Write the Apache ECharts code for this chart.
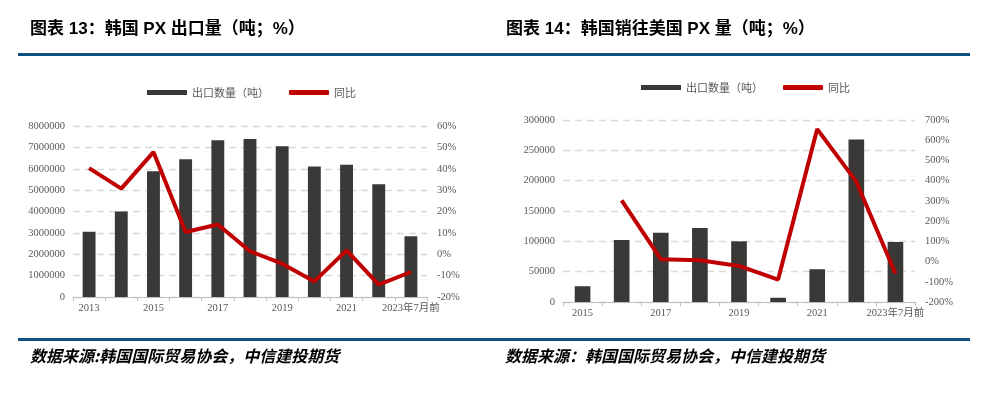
<!DOCTYPE html>
<html>
<head>
<meta charset="utf-8">
<script src="https://cdn.jsdelivr.net/npm/echarts@6/dist/echarts.min.js"></script>
<style>
html,body{margin:0;padding:0;background:#fff;}
#c{width:993px;height:395px;}
</style>
</head>
<body>
<div id="c"></div>
<script>
// ---- data: chart 13 ----
const cats13 = ['2013','2014','2015','2016','2017','2018','2019','2020','2021','2022','2023年7月前'];
const export13 = [3050000,4000000,5880000,6440000,7330000,7390000,7050000,6100000,6190000,5270000,2840000];
const yoy13 = [40.3,30.7,47.8,10.4,13.9,1.4,-4.4,-12.7,1.8,-14.2,-8.3];
const leftTicks13 = [0,1000000,2000000,3000000,4000000,5000000,6000000,7000000,8000000];
const rightTicks13 = [-20,-10,0,10,20,30,40,50,60];

// ---- data: chart 14 ----
const cats14 = ['2015','2016','2017','2018','2019','2020','2021','2022','2023年7月前'];
const export14 = [26000,102000,114000,122000,100000,7000,54000,268000,99000];
const yoy14 = [null,303,11.5,6.5,-21.7,-89,655,395,-59];
const leftTicks14 = [0,50000,100000,150000,200000,250000,300000];
const rightTicks14 = [-200,-100,0,100,200,300,400,500,600,700];

const seriesNames = ['出口数量（吨）','同比'];
const titles = ['图表 13：韩国 PX 出口量（吨；%）','图表 14：韩国销往美国 PX 量（吨；%）'];
const sources = ['数据来源:韩国国际贸易协会，中信建投期货','数据来源：韩国国际贸易协会，中信建投期货'];

const BAR = '#3A3836', LINE = '#C00000', TXT = '#595959', BLUE = '#0D5181';
const NUMFONT = '"Liberation Serif","Noto Sans CJK SC",serif';
const CJK = '"Noto Sans CJK SC",sans-serif';
const TITLEFONT = '"Liberation Sans","Noto Sans CJK SC",sans-serif';

function catAxis(idx, cats){
  return {
    type:'category', gridIndex:idx, data:cats, boundaryGap:true,
    axisLine:{show:true, lineStyle:{color:'#BFBFBF', width:1}},
    axisTick:{show:true, interval:0, length:4, lineStyle:{color:'#BFBFBF'}},
    axisLabel:{interval:1, color:TXT, fontFamily:NUMFONT, fontSize:10.5, margin:6}
  };
}
function valAxis(idx, ticks, pct, grid){
  return {
    type:'value', gridIndex:idx, position: pct ? 'right':'left',
    min:ticks[0], max:ticks[ticks.length-1], interval:ticks[1]-ticks[0],
    alignTicks:false,
    axisLine:{show:false}, axisTick:{show:false},
    splitLine:{show:grid, lineStyle:{color:'#D9D9D9', type:[7,5], width:1.3}},
    axisLabel:{color:TXT, fontFamily:NUMFONT, fontSize:10.5, margin: pct ? 10 : 8,
      formatter: pct ? (v => v + '%') : (v => String(v))}
  };
}
function legendData(suffix){
  return [
    {name:seriesNames[0]+suffix, icon:'rect'},
    {name:seriesNames[1]+suffix, icon:'roundRect'}
  ];
}

const chart = echarts.init(document.getElementById('c'), null, {renderer:'canvas'});
chart.setOption({
  animation:false,
  backgroundColor:'#fff',
  title:[
    {text:titles[0], left:30, top:21, padding:0, textStyle:{fontFamily:TITLEFONT, fontSize:17, fontWeight:'bold', color:'#000'}},
    {text:titles[1], left:506, top:21, padding:0, textStyle:{fontFamily:TITLEFONT, fontSize:17, fontWeight:'bold', color:'#000'}}
  ],
  legend:[
    {data:legendData(''), left:142, top:82, itemWidth:40, itemHeight:5, itemGap:20,
     textStyle:{color:TXT, fontFamily:CJK, fontSize:11}, selectedMode:false},
    {data:legendData(' '), left:636, top:77, itemWidth:40, itemHeight:5, itemGap:20,
     textStyle:{color:TXT, fontFamily:CJK, fontSize:11}, selectedMode:false,
     formatter: n => n.trim()}
  ],
  grid:[
    {left:73, top:126, width:354, height:171},
    {left:563, top:120, width:352, height:182}
  ],
  xAxis:[catAxis(0,cats13), catAxis(1,cats14)],
  yAxis:[
    valAxis(0,leftTicks13,false,true), valAxis(0,rightTicks13,true,false),
    valAxis(1,leftTicks14,false,true), valAxis(1,rightTicks14,true,false)
  ],
  series:[
    {name:seriesNames[0], type:'bar', xAxisIndex:0, yAxisIndex:0, data:export13, barWidth:'40%', itemStyle:{color:BAR}},
    {name:seriesNames[1], type:'line', xAxisIndex:0, yAxisIndex:1, data:yoy13, symbol:'none', lineStyle:{color:LINE, width:4}, itemStyle:{color:LINE}},
    {name:seriesNames[0]+' ', type:'bar', xAxisIndex:1, yAxisIndex:2, data:export14, barWidth:'40%', itemStyle:{color:BAR}},
    {name:seriesNames[1]+' ', type:'line', xAxisIndex:1, yAxisIndex:3, data:yoy14, symbol:'none', lineStyle:{color:LINE, width:4}, itemStyle:{color:LINE}}
  ],
  graphic:[
    {type:'rect', shape:{x:18, y:53, width:952, height:3}, style:{fill:BLUE}},
    {type:'rect', shape:{x:18, y:338, width:952, height:3}, style:{fill:BLUE}},
    {type:'text', x:30, y:348, style:{text:sources[0], fill:'#000', font:'italic bold 16px "Noto Sans CJK SC",sans-serif'}},
    {type:'text', x:505, y:348, style:{text:sources[1], fill:'#000', font:'italic bold 16px "Noto Sans CJK SC",sans-serif'}}
  ]
});
</script>
</body>
</html>
